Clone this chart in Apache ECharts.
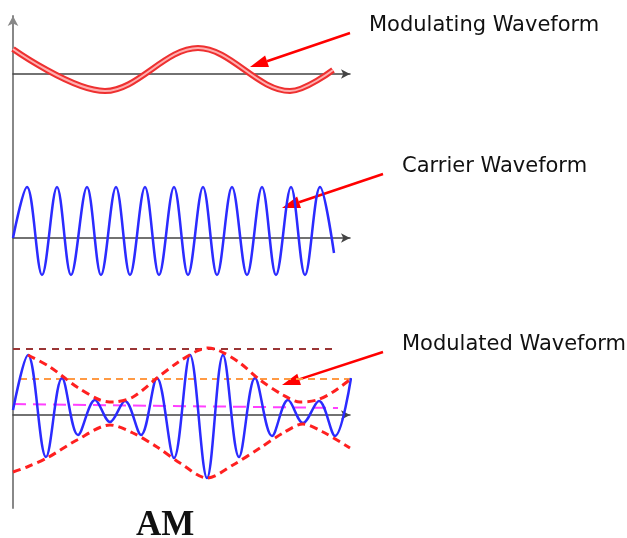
<!DOCTYPE html>
<html>
<head>
<meta charset="utf-8">
<script src="https://cdn.jsdelivr.net/npm/echarts@6/dist/echarts.min.js"></script>
<style>
  html, body { margin: 0; padding: 0; background: #fff; }
  #chart { width: 627px; height: 538px; }
</style>
</head>
<body>
<div id="chart"></div>
<script>
// modulating waveform (time offset, amplitude)
var modTime = [0, 92, 185, 277, 320]
var modAmp = [25, -17, 26, -17, 4]

// carrier waveform
var carTime = [0, 14, 29, 44, 58, 74, 88, 103, 117, 132, 146, 161, 175, 190, 204, 219, 234, 249, 263, 278, 292, 307, 321]
var carAmp = [0, 51, -37, 51, -37, 51, -37, 51, -37, 51, -37, 51, -37, 51, -37, 51, -37, 51, -37, 51, -37, 51, -15]

// modulated waveform
var amTime = [0, 15, 33, 49, 65, 82, 97, 112, 128, 144, 161, 177, 194, 210, 226, 242, 259, 275, 290, 306, 322, 338]
var amAmp = [5, 60, -42, 37, -20, 15, -7, 14, -20, 37, -43, 60, -63, 60, -42, 37, -21, 15, -8, 14, -21, 37]

// envelopes
var upperTime = [15, 37, 64, 87, 100, 120, 144, 164, 184, 195, 207, 227, 247, 270, 287, 304, 320, 339]
var upperAmp = [60, 48, 28, 15, 13, 18, 37, 52, 64, 67, 64, 52, 35, 20, 13, 15, 23, 37]
var lowerTime = [0, 14, 34, 64, 97, 120, 144, 167, 194, 220, 247, 270, 290, 310, 337]
var lowerAmp = [-57, -52, -43, -25, -10, -18, -32, -48, -63, -50, -33, -18, -9, -17, -33]

// reference levels
var maxLevel = [[0, 66], [323, 66]]
var carrierLevel = [[7, 36], [337, 36]]
var minLevel = [[0, 11], [325, 7]]

var labels = ['Modulating Waveform', 'Carrier Waveform', 'Modulated Waveform']

function zip(xs, ys) {
  return xs.map(function (x, i) { return [x, ys[i]] })
}

function arrow(x1, y1, x2, y2) {
  var a = Math.atan2(y2 - y1, x2 - x1)
  var len = 18, half = 6
  var bx = x2 - len * Math.cos(a), by = y2 - len * Math.sin(a)
  var px = -Math.sin(a) * half, py = Math.cos(a) * half
  return [
    { type: 'line', shape: { x1: x1, y1: y1, x2: bx, y2: by }, style: { stroke: '#ff0000', lineWidth: 2.5 } },
    { type: 'polygon', shape: { points: [[x2, y2], [bx + px, by + py], [bx - px, by - py]] }, style: { fill: '#ff0000' } }
  ]
}

var chart = echarts.init(document.getElementById('chart'))

var hAxis = function (idx) {
  return {
    type: 'value', gridIndex: idx, min: 0, max: 337,
    axisLine: { show: true, onZero: true, symbol: ['none', 'arrow'], symbolSize: [7, 9], lineStyle: { color: '#444', width: 1.5 } },
    axisTick: { show: false }, axisLabel: { show: false }, splitLine: { show: false }
  }
}
var hiddenY = function (idx, r) {
  return { type: 'value', gridIndex: idx, min: -r, max: r, show: false }
}

var graphics = [].concat(
  arrow(350, 33, 250, 67),
  arrow(383, 174, 282, 208),
  arrow(383, 352, 282, 385),
  [
    { type: 'text', left: 369, top: 15, style: { text: labels[0], font: '21px "DejaVu Sans"', fill: '#111' } },
    { type: 'text', left: 402, top: 156, style: { text: labels[1], font: '21px "DejaVu Sans"', fill: '#111' } },
    { type: 'text', left: 402, top: 334, style: { text: labels[2], font: '21px "DejaVu Sans"', fill: '#111' } },
    { type: 'text', left: 136, top: 508, style: { text: 'AM', font: 'bold 35px "Liberation Serif"', fill: '#111' } }
  ]
)

var smoothness = 0.35

var option = {
  animation: false,
  grid: [
    { left: 13, top: 16, width: 337, height: 492 },
    { left: 13, top: 44, width: 337, height: 60 },
    { left: 13, top: 178, width: 337, height: 120 },
    { left: 13, top: 335, width: 337, height: 160 }
  ],
  xAxis: [
    { type: 'value', gridIndex: 0, show: false, min: 0, max: 337 },
    hAxis(1), hAxis(2), hAxis(3)
  ],
  yAxis: [
    {
      type: 'value', gridIndex: 0, min: 0, max: 10,
      axisLine: { show: true, symbol: ['none', 'arrow'], symbolSize: [8, 10], lineStyle: { color: '#888', width: 2 } },
      axisTick: { show: false }, axisLabel: { show: false }, splitLine: { show: false }
    },
    hiddenY(1, 30), hiddenY(2, 60), hiddenY(3, 80)
  ],
  graphic: graphics,
  series: [
    {
      type: 'line', xAxisIndex: 1, yAxisIndex: 1, data: zip(modTime, modAmp), smooth: smoothness, symbol: 'none', clip: false,
      lineStyle: { color: '#ee3030', width: 6 }
    },
    {
      type: 'line', xAxisIndex: 1, yAxisIndex: 1, data: zip(modTime, modAmp), smooth: smoothness, symbol: 'none', clip: false,
      lineStyle: { color: '#ffb0b0', width: 2 }
    },
    {
      type: 'line', xAxisIndex: 2, yAxisIndex: 2, data: zip(carTime, carAmp), smooth: smoothness, symbol: 'none', clip: false,
      lineStyle: { color: '#2b2bff', width: 2.5 }
    },
    {
      type: 'line', xAxisIndex: 3, yAxisIndex: 3, data: maxLevel, symbol: 'none', clip: false,
      lineStyle: { color: '#9a3535', width: 2, type: [7, 6] }
    },
    {
      type: 'line', xAxisIndex: 3, yAxisIndex: 3, data: carrierLevel, symbol: 'none', clip: false,
      lineStyle: { color: '#ff9a44', width: 2, type: [7, 5] }
    },
    {
      type: 'line', xAxisIndex: 3, yAxisIndex: 3, data: minLevel, symbol: 'none', clip: false,
      lineStyle: { color: '#ff40ff', width: 2, type: [13, 7] }
    },
    {
      type: 'line', xAxisIndex: 3, yAxisIndex: 3, data: zip(amTime, amAmp), smooth: smoothness, symbol: 'none', clip: false,
      lineStyle: { color: '#2b2bff', width: 2.5 }
    },
    {
      type: 'line', xAxisIndex: 3, yAxisIndex: 3, data: zip(upperTime, upperAmp), smooth: 0.3, symbol: 'none', clip: false,
      lineStyle: { color: '#ff2020', width: 3, type: [8, 5] }
    },
    {
      type: 'line', xAxisIndex: 3, yAxisIndex: 3, data: zip(lowerTime, lowerAmp), smooth: 0.3, symbol: 'none', clip: false,
      lineStyle: { color: '#ff2020', width: 3, type: [8, 5] }
    }
  ]
}

chart.setOption(option)
</script>
</body>
</html>
